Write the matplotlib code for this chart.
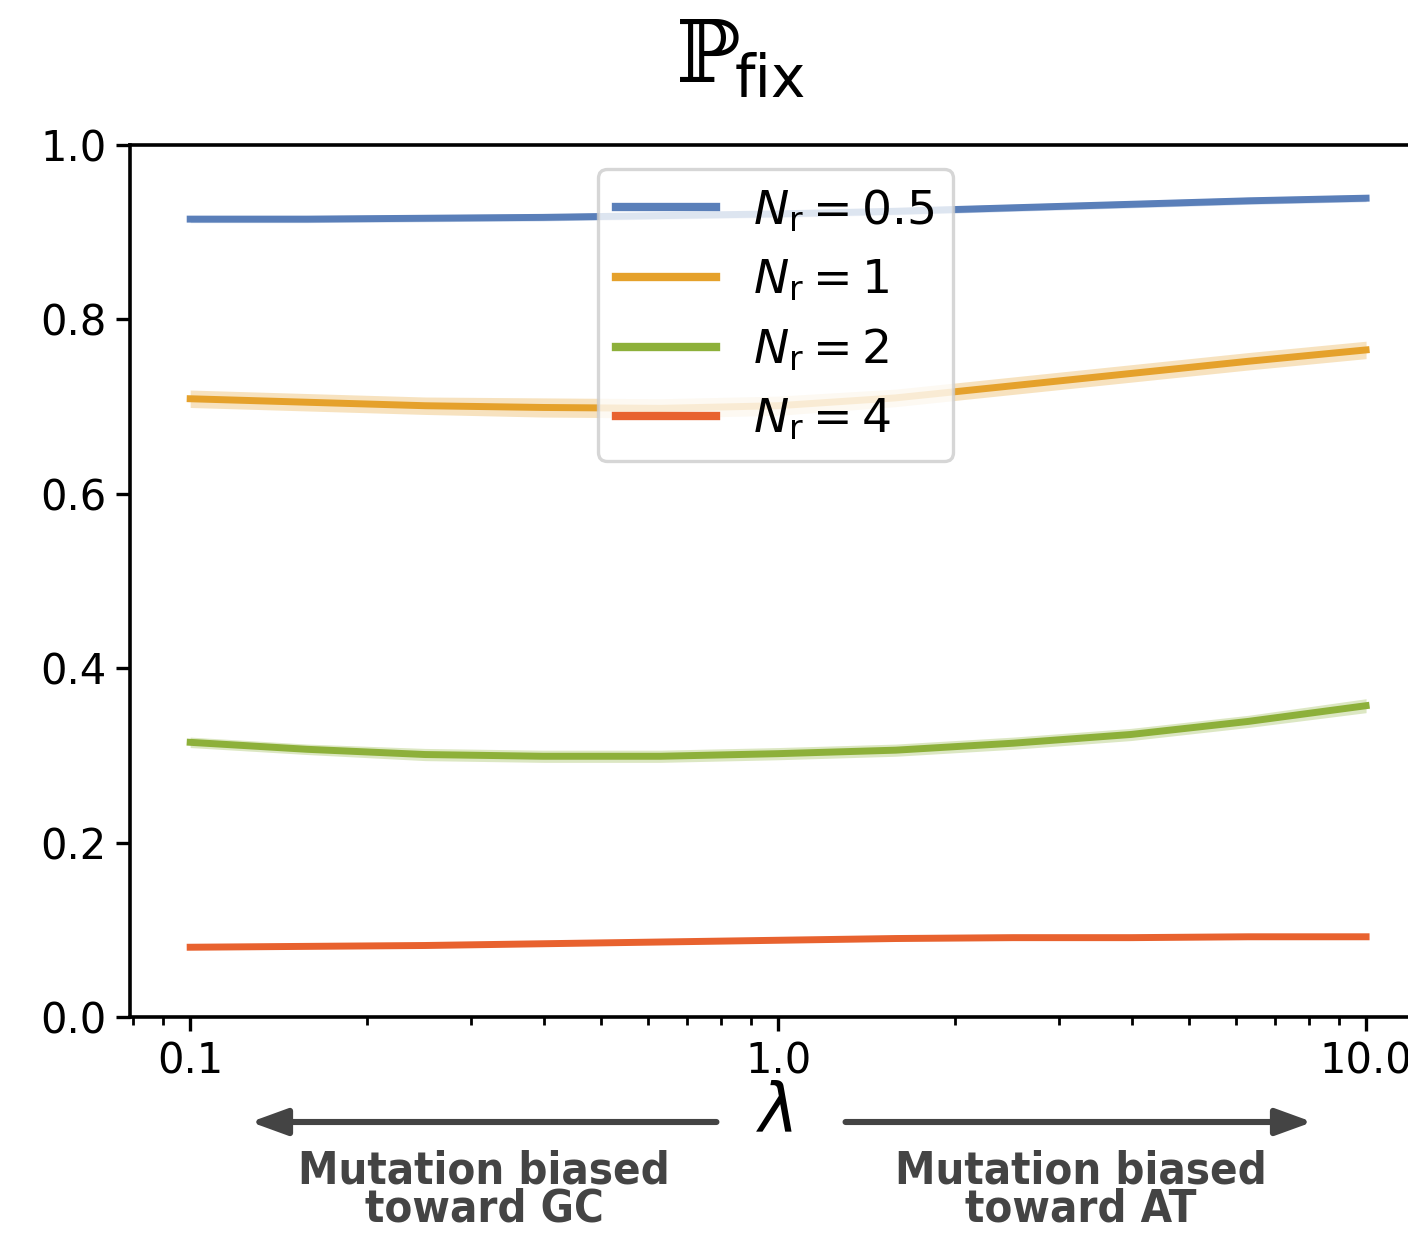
import matplotlib.pyplot as plt
import numpy as np

# lambda values (log-spaced mutation bias)
lam = [0.1, 0.158, 0.251, 0.398, 0.631, 1.0, 1.585, 2.512, 3.981, 6.31, 10.0]

labels = ['0.5', '1', '2', '4']
p_fix = {
    '0.5': [0.915, 0.915, 0.916, 0.917, 0.919, 0.921, 0.924, 0.928, 0.932, 0.936, 0.939],
    '1':   [0.709, 0.705, 0.701, 0.699, 0.698, 0.701, 0.710, 0.724, 0.738, 0.752, 0.765],
    '2':   [0.315, 0.307, 0.301, 0.299, 0.299, 0.302, 0.306, 0.314, 0.324, 0.339, 0.357],
    '4':   [0.080, 0.081, 0.082, 0.084, 0.086, 0.088, 0.090, 0.091, 0.091, 0.092, 0.092],
}
p_err = {
    '0.5': [0.004] * 11,
    '1':   [0.010, 0.010, 0.010, 0.011, 0.011, 0.011, 0.010, 0.010, 0.010, 0.010, 0.010],
    '2':   [0.006, 0.006, 0.007, 0.007, 0.007, 0.007, 0.007, 0.007, 0.007, 0.007, 0.008],
    '4':   [0.002] * 11,
}
colors = ['#5a7fb9', '#e5a12b', '#8db03a', '#e8622f']

fig = plt.figure(figsize=(7.04, 6.185), dpi=200)
ax = fig.add_axes([130 / 1408, 1 - 1017 / 1237, 1291 / 1408, 872 / 1237])

for lab, c in zip(labels, colors):
    y = np.array(p_fix[lab])
    e = np.array(p_err[lab])
    ax.fill_between(lam, y - e, y + e, color=c, alpha=0.3, lw=0)
    ax.plot(lam, y, color=c, lw=2.5, label=r'$N_{\rm r} = %s$' % lab)

ax.set_xscale('log')
ax.set_xlim(0.079, 12.4)
ax.set_ylim(0, 1)
ax.set_xticks([0.1, 1.0, 10.0])
ax.set_xticklabels(['0.1', '1.0', '10.0'])
ax.set_yticks([0, 0.2, 0.4, 0.6, 0.8, 1.0])
ax.set_yticklabels(['0.0', '0.2', '0.4', '0.6', '0.8', '1.0'])
ax.tick_params(labelsize=15, width=1.2, length=5)
ax.tick_params(which='minor', width=1, length=3)
for s in ax.spines.values():
    s.set_linewidth(1.3)

leg = ax.legend(loc='upper center', fontsize=17, handlelength=2.1,
                labelspacing=0.5, framealpha=0.8, edgecolor='#cccccc',
                borderpad=0.4)
leg.get_frame().set_linewidth(1.2)
for ln in leg.get_lines():
    ln.set_linewidth(3)

# title: blackboard P with a sans "fix" subscript
fig.text(708 / 1408, 1 - 82 / 1237, '\u2119', fontsize=31,
         family=['DejaVu Serif', 'DejaVu Sans'], ha='center', va='baseline')
fig.text(735 / 1408, 1 - 97 / 1237, 'fix', fontsize=21,
         ha='left', va='baseline')
fig.text(775 / 1408, 1 - 1113 / 1237, r'$\lambda$', fontsize=24,
         ha='center', va='center')

grey = '#444444'
for x0, x1 in [(722, 245), (840, 1318)]:
    fig.add_artist(plt.Annotation('', xy=(x1 / 1408, 1 - 1122 / 1237),
                                  xytext=(x0 / 1408, 1 - 1122 / 1237),
                                  xycoords='figure fraction',
                                  arrowprops=dict(arrowstyle='-|>,head_width=0.4,head_length=1.1',
                                                  color=grey, lw=2.2, capstyle='round')))
for xc, txt in [(484, 'Mutation biased\ntoward GC'), (1081, 'Mutation biased\ntoward AT')]:
    fig.text(xc / 1408, 1 - 1190 / 1237, txt, fontsize=16.3, fontweight='bold',
             fontstretch='condensed', color=grey, ha='center', va='center',
             linespacing=0.88)

fig.savefig('out.png', dpi=200)
